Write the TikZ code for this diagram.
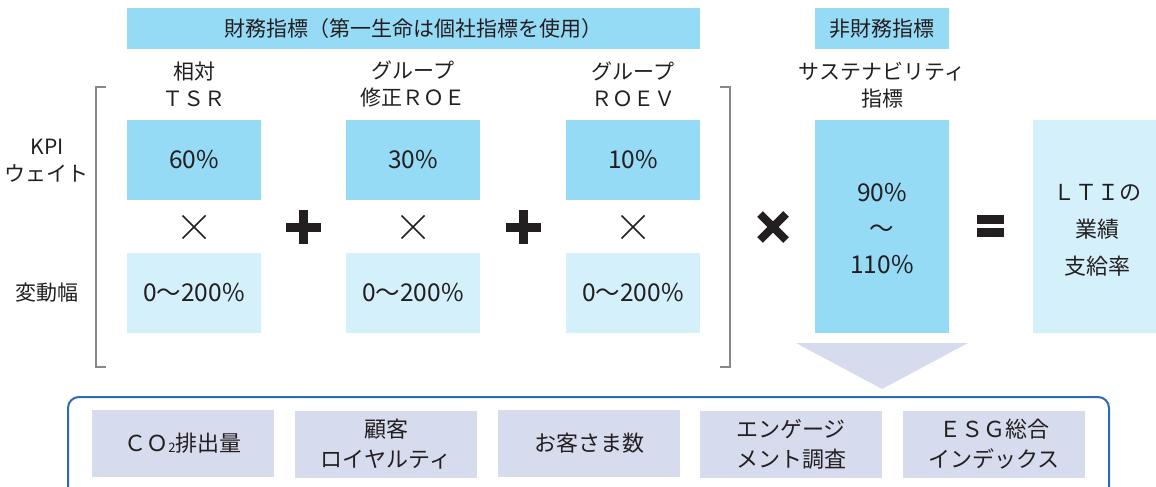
\documentclass[tikz,border=0pt]{standalone}
\usepackage{fontspec}
\setmainfont{Noto Sans CJK JP}
\definecolor{dkblue}{HTML}{96DBF6}
\definecolor{ltblue}{HTML}{D4F1FB}
\definecolor{lav}{HTML}{D6DBED}
\definecolor{frame}{HTML}{2C6AB4}
\definecolor{ink}{HTML}{231F20}
\definecolor{brk}{HTML}{888888}
\tikzset{
  txt/.style={text=ink, align=center, font=\fontsize{21}{27}\selectfont, inner sep=0pt},
  num/.style={txt, font=\fontsize{24.5}{36}\selectfont},
  dkbox/.style={fill=dkblue, draw=none, minimum width=134pt, minimum height=80pt, inner sep=0pt, num},
  ltbox/.style={fill=ltblue, draw=none, minimum width=134pt, minimum height=80pt, inner sep=0pt, num},
  banner/.style={fill=dkblue, draw=none, minimum height=41pt, inner sep=0pt, txt},
  botbox/.style={fill=lav, draw=none, minimum width=182pt, minimum height=67pt, inner sep=0pt, txt, font=\fontsize{22}{30}\selectfont},
  thinx/.style={draw=ink, line width=1.6pt},
  boldop/.style={draw=ink, line width=9pt},
  brack/.style={draw=brk, line width=1.5pt},
}
\begin{document}
\begin{tikzpicture}[x=1pt,y=-1pt]
\useasboundingbox (0,0) rectangle (1156,487);
% banners
\node[banner, minimum width=573pt] (fin) at (413.5,28.5) {財務指標（第一生命は個社指標を使用）};
\node[banner, minimum width=134pt] (nonfin) at (882,28.5) {非財務指標};
% headers
\node[txt] (h1) at (194,84) {相対\\ＴＳＲ};
\node[txt] (h2) at (413,84) {グループ\\修正ＲＯＥ};
\node[txt] (h3) at (633,84) {グループ\\ＲＯＥＶ};
\node[txt] (h4) at (882,85) {サステナビリティ\\指標};
% left labels
\node[txt] (kpi) at (47,161) {KPI\\ウェイト};
\node[txt] (hen) at (47,293) {変動幅};
% bracket
\draw[brack] (106,87) -- (96,87) -- (96,367) -- (106,367);
\draw[brack] (720,87) -- (730,87) -- (730,367) -- (720,367);
% weight boxes
\node[dkbox] (w1) at (194,160) {60\%};
\node[dkbox] (w2) at (413,160) {30\%};
\node[dkbox] (w3) at (633,160) {10\%};
% range boxes
\node[ltbox] (r1) at (194,293) {0～200\%};
\node[ltbox] (r2) at (413,293) {0～200\%};
\node[ltbox] (r3) at (633,293) {0～200\%};
% thin times
\foreach \cx in {194,413,633}{
  \draw[thinx] (\cx-11.5,215.5) -- (\cx+11.5,238.5);
  \draw[thinx] (\cx-11.5,238.5) -- (\cx+11.5,215.5);
}
% bold plus
\foreach \cx in {303.5,523}{
  \draw[boldop] (\cx-17.5,227) -- (\cx+17.5,227);
  \draw[boldop] (\cx,210) -- (\cx,244);
}
% bold times
\draw[draw=ink, line width=8pt] (760,214) -- (786,240);
\draw[draw=ink, line width=8pt] (760,240) -- (786,214);
% equals
\fill[ink] (977,215) rectangle (1004,224);
\fill[ink] (977,228) rectangle (1004,237);
% sustainability box
\node[dkbox, minimum height=213pt] (sus) at (882,226.5) {};
\node[num] (sustxt) at (882,228.5) {90\%\\～\\110\%};
% LTI box
\node[ltbox, minimum width=123pt, minimum height=213pt] (lti) at (1094.5,226.5) {};
\node[num, font=\fontsize{22}{37}\selectfont] (ltitxt) at (1097,230) {ＬＴＩの\\業績\\支給率};
% triangle
\fill[lav] (796,343) -- (968,343) -- (882,389) -- cycle;
% frame
\draw[draw=frame, line width=2pt, rounded corners=11pt] (68,488) -- (68,397) -- (1109,397) -- (1109,488);
% bottom boxes
\node[botbox] (b1) at (183,443.5) {ＣＯ{\fontsize{13}{13}\selectfont\raisebox{-0.15ex}{2}}排出量};
\node[botbox] (b2) at (386,444.5) {顧客\\ロイヤルティ};
\node[botbox] (b3) at (589,443.5) {お客さま数};
\node[botbox] (b4) at (791,444.5) {エンゲージ\\メント調査};
\node[botbox] (b5) at (994,444.5) {ＥＳＧ総合\\インデックス};
\end{tikzpicture}
\end{document}
